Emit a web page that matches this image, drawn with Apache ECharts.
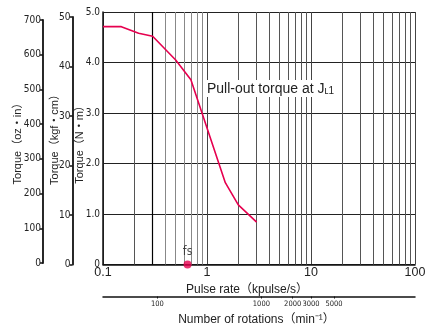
<!DOCTYPE html>
<html>
<head>
<meta charset="utf-8">
<script src="https://cdn.jsdelivr.net/npm/echarts@6/dist/echarts.min.js"></script>
<style>html,body{margin:0;padding:0;background:#fff}#c{width:438px;height:327px}</style>
</head>
<body>
<div id="c"></div>
<script>
// ---- data ----
const pulseRate = [0.1, 0.15, 0.22, 0.3, 0.5, 0.7, 1.5, 2, 3];          // kpulse/s
const torqueNm  = [4.71, 4.71, 4.58, 4.52, 4.05, 3.66, 1.62, 1.18, 0.84]; // N·m
const fsPulse = 0.65;                                                     // self-start frequency fs
const minorGridValues = [0.2,0.3,0.4,0.5,0.6,0.7,0.8,0.9,2,3,4,5,6,7,8,9,20,30,40,50,60,70,80,90];
const rotationTicks = [100, 1000, 2000, 3000, 5000];
const yNames = ['Torque（oz・in）', 'Torque（kgf・cm）', 'Torque（N・m）'];
const xNames = ['Pulse rate（kpulse/s）', 'Number of rotations（min⁻¹）'];
const annotation = 'Pull-out torque at J';
const annotationSub = 'ʟ1';

const RED = '#e6004f';
const NARROW = "'DejaVu Sans Condensed','Liberation Sans Narrow','Arial Narrow',sans-serif";
const SANS = "'Liberation Sans','Noto Sans CJK JP',sans-serif";

const chart = echarts.init(document.getElementById('c'), null, {renderer: 'canvas'});

const hiddenX = (gi) => ({type: 'value', gridIndex: gi, show: false, min: 0, max: 1});
const sideY = (gi, max, interval) => ({
  type: 'value', gridIndex: gi, min: 0, max: max, interval: interval, position: 'left',
  axisLine: {show: true, lineStyle: {color: '#111', width: 1.8}},
  axisTick: {show: true, inside: false, length: 3, lineStyle: {color: '#111', width: 1.5}},
  axisLabel: {color: '#222', fontFamily: NARROW, fontSize: 10, margin: 2},
  splitLine: {show: false}
});

const option = {
  animation: false,
  backgroundColor: '#fff',
  grid: [
    {left: 103, right: 23, top: 12, bottom: 62.5, outerBoundsMode: 'none', containLabel: false},
    {left: 72.5, width: 1, top: 17, bottom: 62.5, outerBoundsMode: 'none', containLabel: false},
    {left: 43, width: 1, top: 20, bottom: 64, outerBoundsMode: 'none', containLabel: false}
  ],
  xAxis: [
    {
      type: 'log', gridIndex: 0, min: 0.1, max: 100, logBase: 10, position: 'bottom',
      axisLine: {show: true, onZero: false, lineStyle: {color: '#111', width: 1.5}},
      axisTick: {show: false},
      axisLabel: {color: '#222', fontFamily: SANS, fontSize: 12.5, margin: 2,
        formatter: v => String(v)},
      splitLine: {show: true, lineStyle: {color: '#444', width: 1}},
      name: xNames[0], nameLocation: 'middle', nameGap: 17,
      nameTextStyle: {color: '#222', fontFamily: SANS, fontSize: 12, padding: [0, 24, 0, 0]}
    },
    {
      type: 'log', gridIndex: 0, min: 30, max: 30000, logBase: 10, position: 'bottom', offset: 32,
      axisLine: {show: true, onZero: false, lineStyle: {color: '#111', width: 1.5}},
      axisTick: {show: true, length: 2, customValues: rotationTicks, lineStyle: {color: '#111'}},
      axisLabel: {color: '#222', fontFamily: NARROW, fontSize: 7.5, margin: 4, customValues: rotationTicks,
        formatter: v => String(Math.round(v))},
      splitLine: {show: false},
      name: xNames[1], nameLocation: 'middle', nameGap: 13,
      nameTextStyle: {color: '#222', fontFamily: SANS, fontSize: 12, padding: [0, 5, 0, 0]}
    },
    hiddenX(1),
    hiddenX(2)
  ],
  yAxis: [
    {
      type: 'value', gridIndex: 0, min: 0, max: 5, interval: 1, position: 'left',
      axisLine: {show: true, onZero: false, lineStyle: {color: '#111', width: 1.5}},
      axisTick: {show: false},
      axisLabel: {color: '#222', fontFamily: NARROW, fontSize: 10, margin: 3,
        formatter: v => (v === 0 ? '0' : v.toFixed(1))},
      splitLine: {show: true, lineStyle: {color: '#222', width: 1}}
    },
    sideY(1, 50, 10),
    sideY(2, 700, 100)
  ],
  graphic: [
    {type: 'text', x: 18, y: 141, rotation: Math.PI / 2,
      style: {text: yNames[0], align: 'center', verticalAlign: 'middle', fill: '#222', font: "11px 'Liberation Sans','Noto Sans CJK JP',sans-serif"}},
    {type: 'text', x: 55, y: 137, rotation: Math.PI / 2,
      style: {text: yNames[1], align: 'center', verticalAlign: 'middle', fill: '#222', font: "11px 'Liberation Sans','Noto Sans CJK JP',sans-serif"}},
    {type: 'text', x: 80, y: 142, rotation: Math.PI / 2,
      style: {text: yNames[2], align: 'center', verticalAlign: 'middle', fill: '#222', font: "11px 'Liberation Sans','Noto Sans CJK JP',sans-serif"}},
    {type: 'text', left: 205, top: 80, z: 20,
      style: {
        text: '{a|' + annotation + '}{s|' + annotationSub + '}',
        backgroundColor: '#fff', padding: [2, 2, 1, 2],
        rich: {
          a: {fontFamily: SANS, fontSize: 14, fill: '#222', color: '#222'},
          s: {fontFamily: SANS, fontSize: 10, fill: '#222', color: '#222', verticalAlign: 'bottom'}
        }
      }}
  ],
  series: [
    {
      type: 'scatter', xAxisIndex: 0, yAxisIndex: 0, data: [], silent: true,
      markLine: {
        silent: true, symbol: 'none', animation: false,
        label: {show: false},
        lineStyle: {color: '#666', width: 1, type: 'solid'},
        data: minorGridValues.map(v => ({xAxis: v, lineStyle: v === 0.3 ? {color: '#000', width: 1.2, type: 'solid'} : {color: v < 1 && v !== 0.2 ? '#888' : '#555', width: 1, type: 'solid'}}))
      }
    },
    {
      type: 'line', xAxisIndex: 0, yAxisIndex: 0, z: 5,
      data: pulseRate.map((x, i) => [x, torqueNm[i]]),
      symbol: 'none', lineStyle: {color: RED, width: 1.6}
    },
    {
      type: 'scatter', xAxisIndex: 0, yAxisIndex: 0, z: 6, clip: false,
      data: [[fsPulse, 0]], symbolSize: 8, itemStyle: {color: RED},
      label: {show: true, position: 'top', distance: 3, formatter: 'fs', color: '#222', fontFamily: NARROW, fontSize: 12}
    }
  ]
};
chart.setOption(option);
</script>
</body>
</html>
